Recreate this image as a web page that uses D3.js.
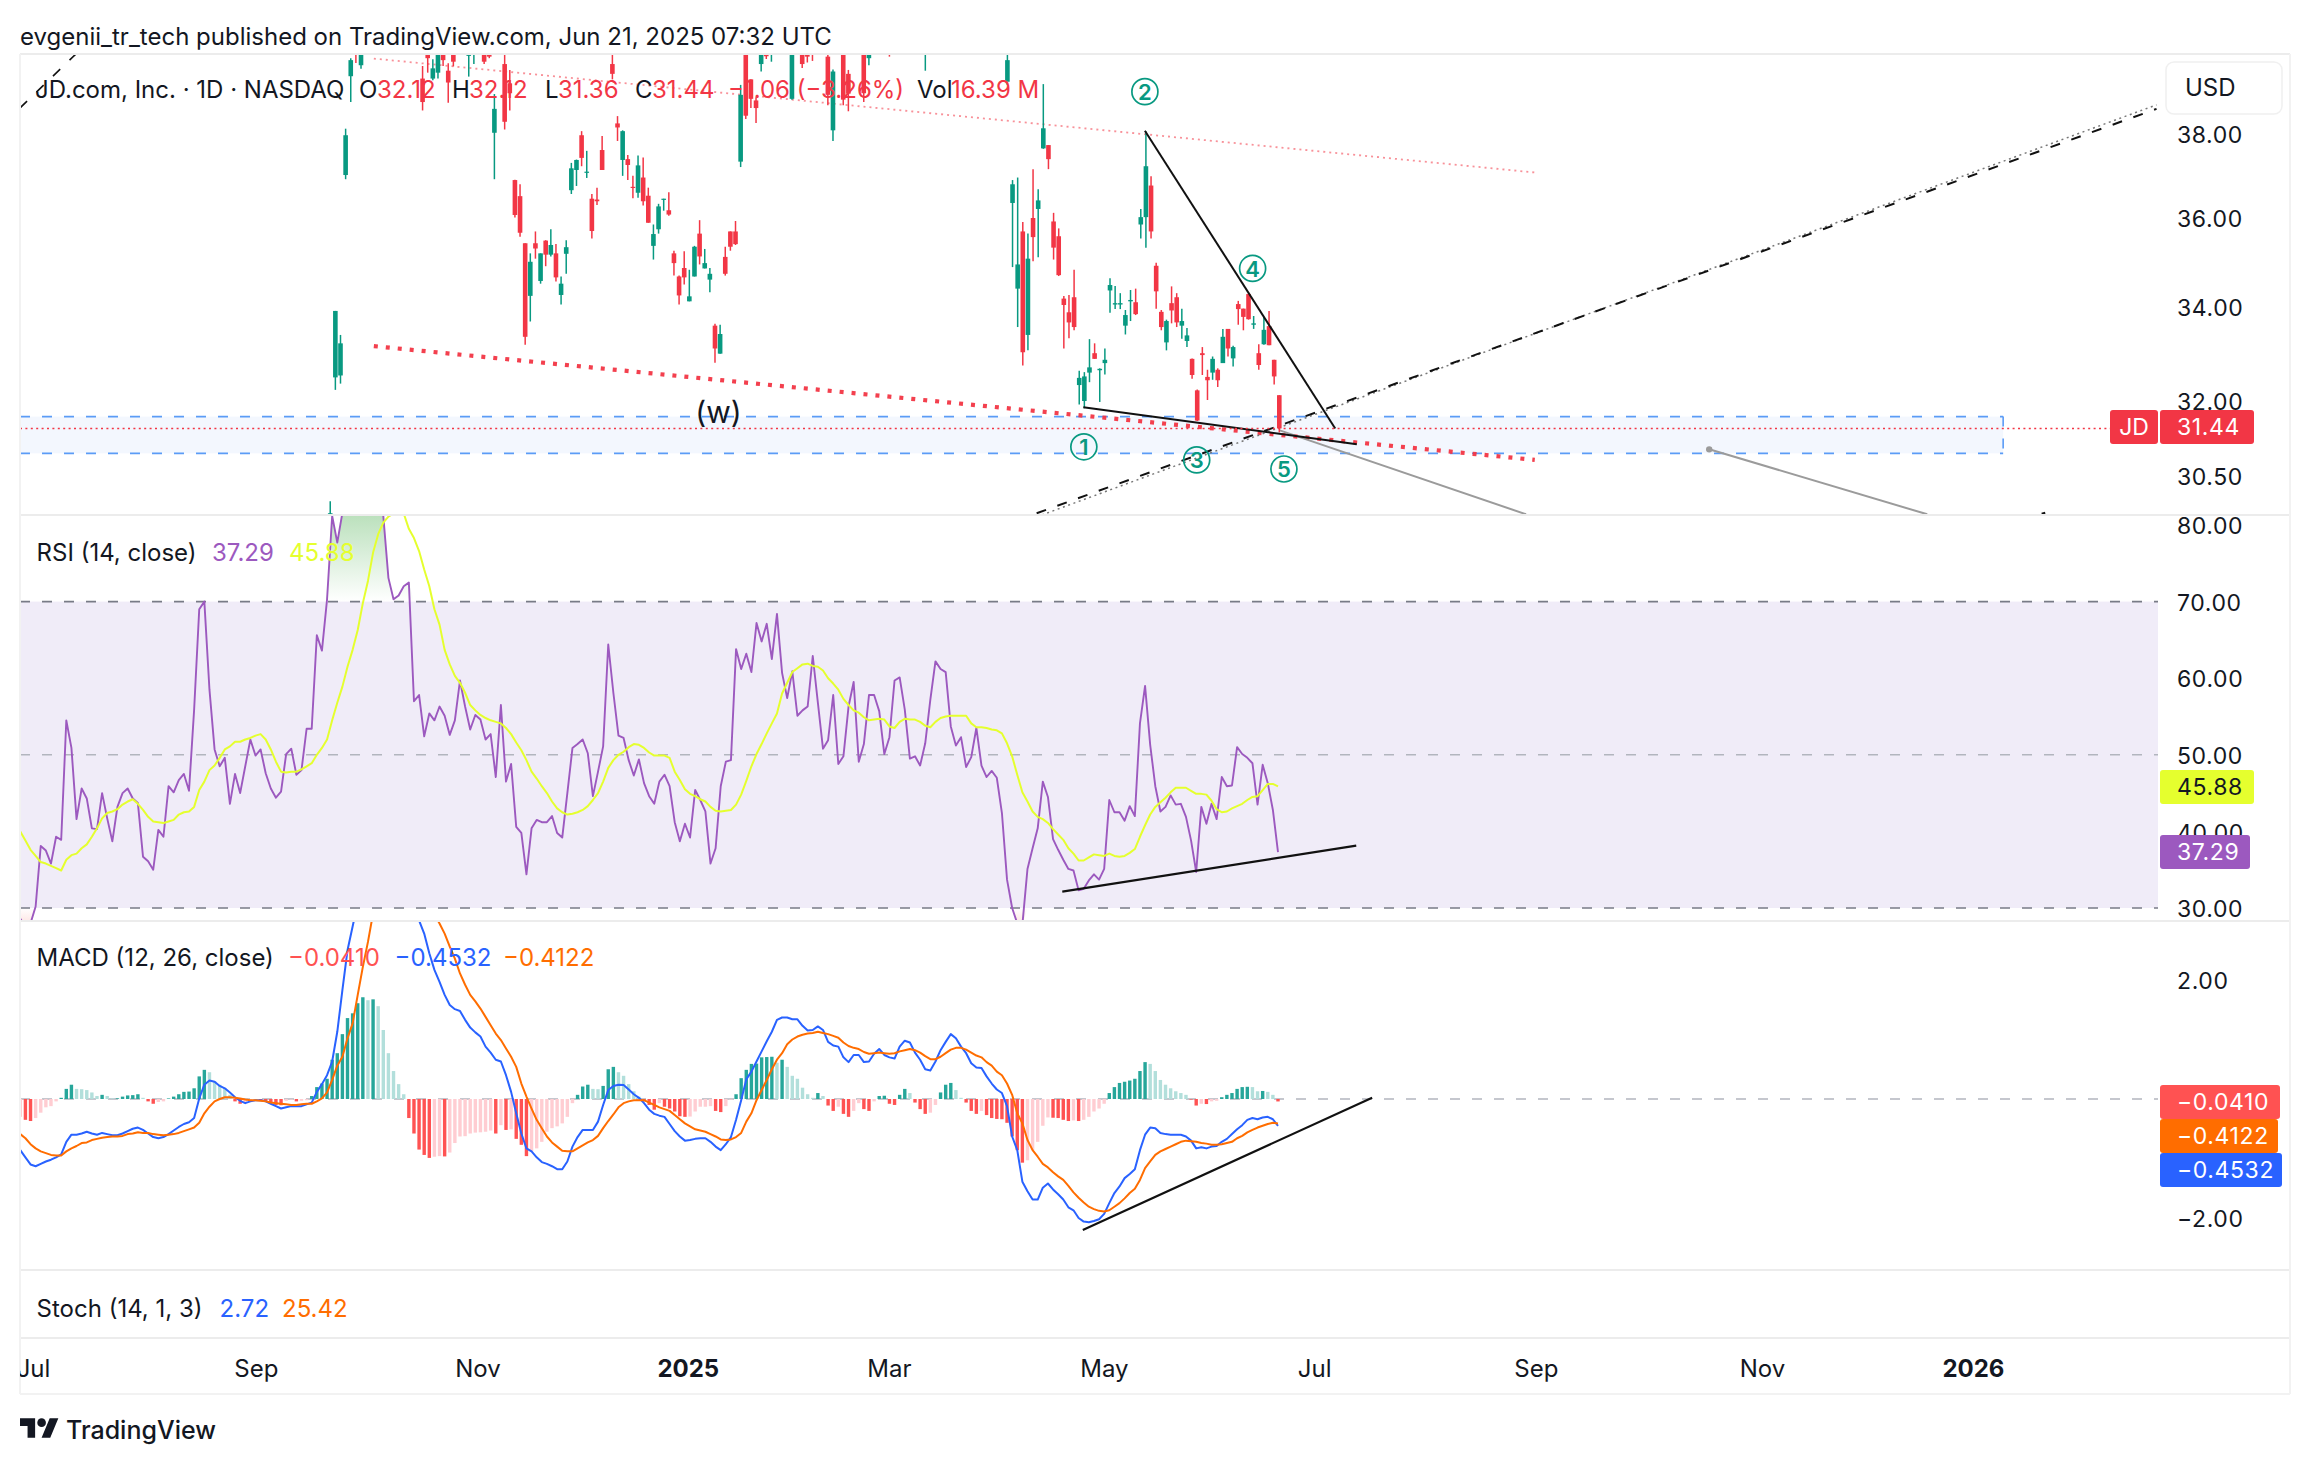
<!DOCTYPE html>
<html>
<head>
<meta charset="utf-8">
<script src="https://cdn.jsdelivr.net/npm/d3@7"></script>
<style>
html,body{margin:0;padding:0;background:#fff;}
svg{display:block;font-family:Inter,"Noto Sans",sans-serif;}
</style>
</head>
<body>
<svg id="chart" width="2310" height="1464"></svg>
<script>
const rsiValues = [
28.6,27.6,28.0,30.2,38.1,37.5,35.8,39.3,38.9,54.5,
50.9,41.6,45.6,44.3,40.4,40.3,45.0,41.7,38.7,43.2,
45.0,45.6,44.3,43.7,36.7,36.1,35.0,40.2,39.3,45.9,
45.1,46.7,47.5,45.3,55.9,69.0,70.0,58.5,50.7,48.5,
49.6,43.6,47.5,45.0,48.5,52.0,49.9,50.7,47.6,45.6,
44.4,45.2,50.1,50.8,47.4,48.0,53.4,53.4,65.6,63.6,
70.3,81.2,77.7,81.6,86,89,90,88,87,85,
84,81.2,73.1,70.3,70.8,72.0,72.5,57.0,57.8,52.4,
55.4,54.5,56.3,55.1,52.6,54.5,59.7,56.3,53.3,55.2,
54.6,52.0,52.7,47.1,56.5,46.5,48.8,40.6,39.8,34.4,
40.4,41.5,41.2,41.2,42.0,39.8,39.2,45.0,50.9,51.4,
52.0,50.2,44.6,47.8,51.1,64.4,58.1,52.5,52.2,49.3,
47.3,49.4,46.3,44.6,43.6,46.5,47.4,45.9,41.2,38.7,
41.0,39.2,45.4,44.1,42.6,35.8,37.8,45.9,49.1,49.3,
63.8,61.2,63.2,60.8,67.2,64.8,67.1,62.5,68.4,60.7,
57.4,60.9,55.1,55.8,56.3,62.9,56.8,50.8,51.9,57.8,
48.8,49.8,56.3,59.5,49.1,51.4,57.8,57.8,55.7,50.1,
52.3,59.7,60.1,55.9,49.5,49.8,48.6,51.5,57.2,62.2,
61.2,60.8,53.7,51.2,52.3,48.4,49.7,53.5,48.6,47.1,
47.9,47.0,42.4,33.7,30.0,28.0,27.8,35.1,37.8,40.4,
46.5,44.5,39.0,37.6,36.3,35.1,34.9,32.3,32.5,33.6,
34.4,33.7,35.1,44.1,42.5,42.5,41.4,43.3,42.0,54.1,
59.0,51.3,45.9,42.6,43.2,44.7,43.5,43.6,41.9,38.8,
34.7,43.2,41.0,43.6,41.6,47.1,45.9,46.0,51.0,50.1,
49.6,48.9,43.5,48.7,46.3,42.8,37.29];

const rsiMaValues = [
40.0,38.8,37.6,36.8,36.0,35.8,35.5,35.2,34.9,36.3,
36.9,37.1,37.8,38.3,39.3,40.4,41.7,42.4,42.6,42.9,
43.5,43.9,44.2,43.6,42.8,41.9,41.3,41.2,41.1,41.3,
41.5,42.2,42.5,42.6,43.2,45.4,46.5,48.0,48.6,49.6,
50.7,51.1,51.7,51.7,52.0,52.2,52.5,52.7,52.0,50.7,
49.1,47.8,47.7,47.8,47.8,48.1,48.5,48.9,50.0,50.9,
52.0,54.5,56.8,58.9,61.5,63.7,66.3,69.8,72.7,76.4,
78.8,80.3,81.1,81.5,81.6,81.5,79.5,78.3,76.6,74.2,
72.0,69.0,67.0,63.7,61.8,60.3,59.4,58.1,56.5,55.8,
55.2,54.8,54.5,54.3,54.1,53.5,52.7,51.6,50.6,49.3,
47.8,46.9,45.9,45.0,43.9,43.0,42.5,42.2,42.3,42.5,
42.8,43.3,44.1,45.0,46.5,48.3,49.3,50.0,50.4,51.0,
51.4,51.3,50.9,50.3,49.9,49.9,49.9,49.6,47.8,46.7,
45.5,44.9,44.6,44.2,43.9,43.2,42.7,42.6,42.7,42.8,
43.5,44.8,46.6,48.5,50.1,51.4,52.8,54.1,55.4,58.0,
59.4,60.8,61.3,61.8,61.9,61.6,61.5,61.0,60.0,59.3,
58.5,57.3,56.5,55.8,55.5,54.9,54.5,54.6,54.7,54.6,
53.7,53.5,54.3,54.7,54.6,54.6,54.3,53.8,53.6,54.3,
54.8,55.0,55.1,55.1,55.1,55.1,54.1,53.6,53.6,53.5,
53.3,53.2,52.8,51.5,49.8,47.4,45.1,43.9,42.6,41.9,
41.6,41.1,40.3,39.6,38.9,37.8,37.1,36.2,36.2,36.6,
37.0,36.9,36.8,37.1,36.8,36.7,36.8,37.2,37.7,39.3,
40.8,42.2,43.2,43.8,44.4,45.1,45.7,45.7,45.7,45.3,
44.9,44.9,44.8,44.0,42.9,42.5,42.6,43.0,43.3,43.6,
44.1,44.5,44.6,45.4,46.2,46.2,45.88];

const macdValues = [
-0.86,-0.98,-1.10,-1.13,-1.09,-1.05,-1.02,-0.98,-0.93,-0.72,
-0.60,-0.60,-0.58,-0.55,-0.58,-0.60,-0.57,-0.59,-0.61,-0.61,
-0.58,-0.54,-0.50,-0.48,-0.52,-0.58,-0.64,-0.66,-0.64,-0.59,
-0.53,-0.47,-0.42,-0.39,-0.32,0.01,0.24,0.31,0.29,0.22,
0.18,0.11,0.03,-0.03,-0.07,-0.04,-0.02,-0.02,-0.04,-0.08,
-0.12,-0.16,-0.14,-0.12,-0.12,-0.12,-0.09,-0.06,0.12,0.25,
0.40,0.63,1.13,1.83,2.50,2.90,3.3,3.6,3.9,4.1,
4.2,4.2,4.1,4.0,3.8,3.6,3.4,3.2,3.0,2.78,
2.45,2.17,1.97,1.75,1.58,1.51,1.48,1.33,1.20,1.12,
1.05,0.88,0.78,0.66,0.63,0.40,0.12,-0.24,-0.58,-0.83,
-0.88,-0.98,-1.06,-1.09,-1.13,-1.18,-1.18,-1.05,-0.80,-0.64,
-0.52,-0.52,-0.52,-0.38,-0.10,0.15,0.22,0.24,0.235,0.16,
0.08,0.02,-0.07,-0.18,-0.25,-0.28,-0.30,-0.42,-0.54,-0.63,
-0.70,-0.69,-0.67,-0.66,-0.66,-0.72,-0.80,-0.86,-0.76,-0.64,
-0.35,-0.02,0.33,0.46,0.63,0.80,0.97,1.13,1.33,1.37,
1.37,1.34,1.34,1.23,1.15,1.16,1.22,1.16,0.96,0.90,
0.88,0.70,0.62,0.74,0.74,0.62,0.63,0.76,0.84,0.74,
0.70,0.68,0.88,0.98,0.95,0.78,0.66,0.50,0.48,0.63,
0.82,0.96,1.09,1.02,0.88,0.77,0.60,0.53,0.52,0.38,
0.26,0.16,0.10,-0.12,-0.63,-0.86,-1.39,-1.55,-1.69,-1.69,
-1.49,-1.42,-1.52,-1.60,-1.69,-1.82,-1.87,-2.00,-2.06,-2.07,
-2.05,-2.02,-1.93,-1.75,-1.58,-1.47,-1.33,-1.26,-1.18,-0.86,
-0.60,-0.48,-0.49,-0.57,-0.59,-0.60,-0.60,-0.60,-0.63,-0.70,
-0.83,-0.81,-0.83,-0.80,-0.79,-0.72,-0.67,-0.59,-0.51,-0.44,
-0.35,-0.32,-0.34,-0.31,-0.30,-0.34,-0.4532];

const signalValues = [
-0.59,-0.66,-0.76,-0.83,-0.88,-0.91,-0.94,-0.95,-0.95,-0.88,
-0.83,-0.79,-0.74,-0.73,-0.69,-0.67,-0.65,-0.64,-0.63,-0.63,
-0.62,-0.59,-0.58,-0.56,-0.57,-0.57,-0.59,-0.60,-0.61,-0.60,
-0.59,-0.57,-0.54,-0.51,-0.48,-0.40,-0.24,-0.13,-0.04,0.00,
0.03,0.03,0.02,0.01,-0.01,-0.02,-0.02,-0.03,-0.04,-0.06,
-0.07,-0.08,-0.09,-0.10,-0.10,-0.09,-0.08,-0.08,-0.04,0.01,
0.11,0.32,0.56,0.71,1.02,1.27,1.75,2.22,2.64,3.12,
3.3,3.45,3.6,3.7,3.75,3.75,3.7,3.6,3.5,3.4,
3.25,3.1,2.95,2.78,2.56,2.36,2.11,1.92,1.75,1.64,
1.52,1.38,1.24,1.10,0.99,0.85,0.71,0.54,0.26,0.04,
-0.16,-0.35,-0.49,-0.63,-0.73,-0.80,-0.87,-0.88,-0.88,-0.83,
-0.78,-0.73,-0.69,-0.62,-0.49,-0.37,-0.26,-0.14,-0.07,-0.04,
-0.02,-0.02,-0.02,-0.06,-0.10,-0.14,-0.17,-0.20,-0.27,-0.34,
-0.41,-0.46,-0.51,-0.53,-0.55,-0.59,-0.63,-0.68,-0.69,-0.68,
-0.64,-0.57,-0.38,-0.24,-0.02,0.15,0.32,0.50,0.66,0.77,
0.92,1.00,1.05,1.08,1.10,1.11,1.13,1.11,1.09,1.06,
1.03,0.95,0.89,0.86,0.84,0.79,0.76,0.77,0.78,0.77,
0.76,0.77,0.80,0.82,0.84,0.82,0.78,0.72,0.67,0.67,
0.71,0.77,0.83,0.86,0.86,0.83,0.78,0.73,0.70,0.62,
0.56,0.46,0.40,0.26,0.07,-0.24,-0.41,-0.69,-0.86,-0.97,
-1.09,-1.15,-1.23,-1.30,-1.36,-1.46,-1.57,-1.66,-1.74,-1.81,
-1.85,-1.88,-1.89,-1.87,-1.81,-1.75,-1.67,-1.58,-1.51,-1.36,
-1.16,-1.05,-0.94,-0.88,-0.84,-0.80,-0.76,-0.72,-0.70,-0.71,
-0.72,-0.74,-0.75,-0.77,-0.77,-0.76,-0.74,-0.72,-0.66,-0.62,
-0.56,-0.52,-0.48,-0.45,-0.42,-0.40,-0.4122];

const histValues = [
-.30,-.35,-.37,-.32,-.23,-.14,-.12,-.04,.02,.17,
.24,.17,.165,.15,.11,.05,.07,.05,.01,.012,
.04,.06,.065,.08,.02,-.04,-.08,-.05,-.04,.01,
.04,.08,.12,.125,.18,.38,.49,.45,.30,.24,
.18,.07,-.04,-.08,-.07,-.02,-.02,-.03,-.04,-.07,
-.10,-.105,-.03,-.01,-.04,-.03,-.02,.05,.20,.26,
.34,.66,.77,1.09,1.36,1.44,1.61,1.71,1.66,1.675,
1.56,1.16,.77,.47,.25,.08,-.32,-.58,-.85,-.94,
-.99,-.97,-.96,-.965,-.90,-.74,-.63,-.625,-.58,-.565,
-.56,-.55,-.53,-.58,-.44,-.52,-.51,-.67,-.77,-.96,
-.88,-.83,-.72,-.55,-.49,-.46,-.41,-.30,-.07,.07,
.21,.24,.17,.165,.22,.50,.54,.45,.39,.25,
.13,.04,-.04,-.10,-.18,-.07,-.13,-.16,-.21,-.29,
-.30,-.295,-.21,-.13,-.13,-.12,-.20,-.22,-.12,-.01,
.08,.35,.49,.59,.595,.70,.705,.71,.61,.66,
.54,.39,.34,.19,.08,.02,.10,.05,-.11,-.20,
-.13,-.25,-.30,-.20,-.07,-.17,-.20,-.04,.05,.055,
-.08,-.10,.07,.17,.10,-.06,-.17,-.25,-.23,-.10,
.11,.24,.27,.15,.02,-.06,-.20,-.25,-.20,-.27,
-.32,-.335,-.34,-.40,-.63,-.86,-1.07,-1.03,-.86,-.72,
-.45,-.31,-.315,-.32,-.35,-.37,-.36,-.37,-.35,-.30,
-.21,-.16,-.08,.10,.20,.27,.29,.31,.34,.47,
.62,.59,.47,.32,.24,.18,.13,.10,.07,-.01,
-.11,-.08,-.085,-.04,-.03,.03,.07,.10,.17,.20,
.205,.20,.13,.135,.12,.07,-.041];

// [bar, open, high, low, close]
const candles = [
[61,29.5,30.0,29.2,29.77],[62,32.49,33.91,32.23,33.91],[63,32.53,33.39,32.36,33.21],[64,37.01,38.13,36.91,37.97],
[65,39.44,39.90,38.79,39.85],[66,40.6,40.9,39.78,40.0],[67,39.72,41,39.63,40.5],
[79,39.38,39.70,38.58,38.79],[80,40.6,41,39.53,39.90],[81,39.38,39.87,39.34,39.64],[82,39.53,40.6,39.38,40.3],
[83,40.4,40.7,39.70,39.85],[84,39.58,39.77,38.77,39.28],[85,40.5,40.8,39.69,39.81],[88,39.96,40.7,39.43,40.4],
[89,40.2,40.9,39.75,40.6],[91,40.5,40.8,39.75,39.81],[92,40.3,40.6,39.90,39.94],[93,38.03,38.99,36.91,38.62],
[95,39.75,40.3,38.11,38.30],[96,39.26,39.6,38.58,39.01],[97,36.89,36.90,36.01,36.07],[98,36.51,36.79,35.57,35.66],
[99,35.42,35.42,33.18,33.35],[100,34.24,35.19,33.68,35.00],[101,35.42,35.69,35.07,35.30],[102,34.57,35.19,34.51,35.19],
[103,35.48,35.49,34.90,35.16],[104,35.16,35.74,35.12,35.38],[105,35.19,35.40,34.56,34.65],[106,34.26,34.67,34.05,34.51],
[107,35.18,35.49,34.73,35.33],[108,36.65,37.30,36.56,37.17],[109,37.13,37.38,36.75,37.37],[110,37.97,38.07,37.22,37.42],
[111,37.07,37.59,36.94,37.09],[112,36.45,36.56,35.53,35.70],[113,36.43,36.71,36.30,36.39],[114,37.61,37.95,37.13,37.13],
[116,39.75,40.3,39.36,39.50],[117,38.26,38.44,37.83,38.16],[118,37.37,38.09,36.99,38.07],[119,37.39,37.49,36.89,37.25],
[120,36.73,36.99,36.46,36.71],[121,36.59,37.48,36.47,37.24],[122,36.95,37.43,36.29,36.39],[123,36.52,36.71,35.89,35.89],
[124,35.36,35.85,35.05,35.63],[125,35.74,36.33,35.64,36.27],[126,36.43,36.45,36.17,36.45],[127,36.18,36.60,36.05,36.08],
[128,35.19,35.25,34.69,34.97],[129,34.67,34.69,34.05,34.25],[130,34.86,35.24,34.49,34.65],[131,34.12,34.82,34.12,34.23],
[132,34.67,35.36,34.67,35.34],[133,35.64,35.95,34.94,35.12],[134,34.85,35.29,34.85,34.97],[135,34.60,34.86,34.32,34.73],
[136,33.59,33.63,32.80,33.10],[137,32.99,33.61,32.99,33.41],[138,35.11,35.34,34.69,34.73],[139,35.69,35.69,35.25,35.34],
[140,35.69,35.93,35.38,35.40],[141,37.33,39.22,37.20,38.97],[142,40.3,40.6,38.37,38.45],[143,39.36,39.36,38.64,38.87],
[144,38.83,38.91,38.27,38.64],[145,39.75,40.7,39.56,40.2],[146,40.4,41,39.88,39.95],[147,40.3,40.9,39.81,40.7],
[151,38.87,40.7,38.85,40.4],[153,40.5,40.9,39.65,39.75],[154,40.4,40.7,39.79,39.94],[155,40.5,40.7,39.83,40.1],
[158,39.94,40.3,38.71,38.97],[159,38.09,39.61,37.83,39.56],[161,40.3,40.6,38.71,38.85],[162,39.5,39.6,38.56,39.0],
[165,40.4,40.7,38.79,39.01],[166,39.90,40.7,39.72,40.4],[170,40.5,40.8,39.94,40.1],[177,40.2,40.9,39.58,40.6],
[193,39.30,40.05,39.22,39.85],[194,36.35,36.89,34.88,36.79],[195,34.40,36.95,33.56,34.94],[196,35.69,35.91,32.74,33.02],
[197,33.39,35.64,33.06,35.07],[198,36.00,37.15,35.01,35.56],[199,36.21,36.67,35.10,36.41],[200,37.65,39.24,37.64,38.14],
[201,37.73,37.73,37.15,37.39],[202,35.92,36.12,35.05,35.32],[203,35.58,35.76,34.68,34.70],[204,34.18,34.24,33.10,34.04],
[205,33.88,34.26,33.32,33.66],[206,34.21,34.82,33.49,33.56],[207,32.33,32.63,31.93,32.48],[208,32.00,32.60,31.85,32.51],
[209,32.59,33.30,32.39,32.70],[210,33.00,33.21,32.88,32.88],[211,32.64,32.68,31.98,32.67],[212,32.79,33.10,32.55,32.86],
[213,34.36,34.63,33.87,34.48],[214,34.05,34.46,33.95,34.08],[215,34.05,34.30,33.95,34.08],[216,33.59,33.93,33.40,33.82],
[217,34.12,34.37,33.69,34.15],[218,34.10,34.40,33.82,33.84],[219,35.85,36.21,35.53,36.02],[220,36.02,38.07,35.32,37.22],
[221,36.76,36.98,35.53,35.69],[222,34.91,34.98,33.96,34.34],[223,33.89,33.93,33.49,33.56],[224,33.23,33.72,33.06,33.69],
[225,34.08,34.45,33.64,33.92],[226,34.21,34.30,33.56,33.66],[227,33.59,33.96,33.31,33.69],[228,33.26,33.54,33.13,33.38],
[229,32.88,32.89,32.46,32.54],[230,32.22,32.24,31.59,31.60],[231,33.00,33.13,32.54,32.96],[232,32.50,32.65,32.02,32.43],
[233,32.59,32.93,32.44,32.88],[234,32.65,32.68,32.29,32.43],[235,32.79,33.52,32.79,33.35],[236,33.52,33.52,32.93,33.10],
[237,32.89,33.16,32.72,33.13],[238,34.06,34.13,33.61,33.95],[239,33.96,33.96,33.49,33.78],[240,34.28,34.30,33.72,33.73],
[241,33.61,33.80,33.52,33.64],[242,33.00,33.19,32.65,32.75],[243,33.19,33.78,33.18,33.50],[244,33.58,33.91,33.17,33.17],
[245,32.86,32.86,32.34,32.51],[246,32.12,32.12,31.36,31.44]];

const priceTicks = [38,36,34,32,30.5];
const rsiTicks = [80,70,60,50,40,30];
const macdTicks = [2,-2];
const timeBars = [3.06,46.5,89.7,130.7,169.9,211.8,252.8,296,340.1,381.2];
const timeLabels = ["Jul","Sep","Nov","2025","Mar","May","Jul","Sep","Nov","2026"];

const lastClose = 31.44;
const rangeZone = {top:31.68, bottom:30.94, endBar:387.1};
// trend drawings as [bar, value] pairs
const thinPinkLine = [[69.5,39.89],[295.8,37.07]];
const thickRedLine = [[69.5,33.15],[295.8,30.81]];
const risingLine = [[198.7,29.77],[417.0,38.62]];
const risingGuide = [[198.7,29.70],[417.0,38.72]];
const cornerLine = [[0.5,38.64],[11.6,40.03]];
const wedgeTop = [[219.8,38.08],[256.9,31.44]];
const wedgeBottom = [[207.8,31.87],[261.1,31.12]];
const grayLineA = [[246.1,31.40],[294.1,29.75]];
const grayLineB = [[329.8,31.02],[372.3,29.75]];
const cornerTick = [[394.6,29.76],[395.3,29.78]];
const rsiTrend = [[203.7,32.13],[261.0,38.14]];
const macdTrend = [[207.7,-2.20],[264.1,0.022]];
const waveDigits = ["1","2","3","4","5"];
const waveBars = [207.9,219.8,229.9,240.8,246.9];
const wavePrices = [31.07,39.05,30.81,34.85,30.63];

const RED="#F23645", TEAL="#089981", PURPLE="#9C59BF", YELLOW="#E5FF2E",
      BLUE="#2962FF", ORANGE="#FF6D00", SOFTRED="#FF5252", TXT="#131722", LINE="#ececec";

const svg = d3.select("#chart");
const L=20, R=2158, OUT=2290, P=[54,515], S=[515,921], M=[921,1270], ST=[1270,1338], T=[1338,1394];

const xC = d3.scaleLinear().domain([0,246]).range([17.3,1279.3]);   // candles, drawings, time axis
const xL = d3.scaleLinear().domain([0,246]).range([20.3,1278]);     // indicator series
const yP = d3.scaleLog().domain([38,32]).range([134,401]);
const yS = d3.scaleLinear().domain([80,30]).range([525,908]);
const yM = d3.scaleLinear().domain([2,-2]).range([980,1218]);

const defs = svg.append("defs");
function clip(id,a){defs.append("clipPath").attr("id",id).append("rect").attr("x",L).attr("y",a[0]).attr("width",R-L).attr("height",a[1]-a[0]);}
clip("cp",P);clip("cs",S);clip("cm",M);
defs.append("clipPath").attr("id","ct").append("rect").attr("x",L).attr("y",T[0]).attr("width",OUT-L).attr("height",T[1]-T[0]);
const gg=defs.append("linearGradient").attr("id","gOver").attr("gradientUnits","userSpaceOnUse").attr("x1",0).attr("x2",0).attr("y1",S[0]).attr("y2",yS(70));
gg.append("stop").attr("offset",0).attr("stop-color","#4CAF50").attr("stop-opacity",0.38);
gg.append("stop").attr("offset",1).attr("stop-color","#4CAF50").attr("stop-opacity",0);
const gr=defs.append("linearGradient").attr("id","gUnder").attr("gradientUnits","userSpaceOnUse").attr("x1",0).attr("x2",0).attr("y1",yS(30)).attr("y2",S[1]);
gr.append("stop").attr("offset",0).attr("stop-color","#F44336").attr("stop-opacity",0);
gr.append("stop").attr("offset",1).attr("stop-color","#F44336").attr("stop-opacity",0.12);

function seg(parent,pts,scaleX,scaleY,color,w,dash,op){
  const l=parent.append("line")
    .attr("x1",scaleX(pts[0][0])).attr("y1",scaleY(pts[0][1]))
    .attr("x2",scaleX(pts[1][0])).attr("y2",scaleY(pts[1][1]))
    .attr("stroke",color).attr("stroke-width",w);
  if(dash) l.attr("stroke-dasharray",dash);
  if(op!=null) l.attr("stroke-opacity",op);
  return l;
}
function txt(x,y,s,color,size,weight,anchor){
  return svg.append("text").attr("x",x).attr("y",y).attr("dy","0.36em").attr("fill",color)
    .attr("font-size",size||24).attr("font-weight",weight||400).attr("text-anchor",anchor||"start").text(s);
}

/* ---------- price pane ---------- */
const gP = svg.append("g").attr("clip-path","url(#cp)");
const zy0=yP(rangeZone.top), zy1=yP(rangeZone.bottom), zx=xC(rangeZone.endBar);
gP.append("rect").attr("x",L).attr("y",zy0).attr("width",zx-L).attr("height",zy1-zy0).attr("fill","#F3F7FE");
[[L,zy0,zx,zy0],[L,zy1,zx,zy1],[zx,zy0,zx,zy1]].forEach(c=>{
  gP.append("line").attr("x1",c[0]).attr("y1",c[1]).attr("x2",c[2]).attr("y2",c[3])
    .attr("stroke","#5B9CF6").attr("stroke-width",1.6).attr("stroke-dasharray","10 12");
});
seg(gP,thinPinkLine,xC,yP,RED,1.8,"2 4",0.55);
seg(gP,thickRedLine,xC,yP,RED,4.2,"4 8",0.95);
seg(gP,cornerLine,xC,yP,"#111",1.6,"10 13");
seg(gP,risingGuide,xC,yP,"#777",1.5,"2 3.6");
seg(gP,risingLine,xC,yP,"#111",2,"10 12");
seg(gP,grayLineA,xC,yP,"#9b9b9b",2);
seg(gP,grayLineB,xC,yP,"#9b9b9b",2);
gP.append("circle").attr("cx",xC(grayLineB[0][0])).attr("cy",yP(grayLineB[0][1])).attr("r",3.2).attr("fill","#9b9b9b");
seg(gP,cornerTick,xC,yP,"#111",2);

const gC = gP.append("g");
gC.selectAll("line.w").data(candles).join("line").attr("class","w")
  .attr("x1",d=>xC(d[0])).attr("x2",d=>xC(d[0])).attr("y1",d=>yP(d[2])).attr("y2",d=>yP(d[3]))
  .attr("stroke",d=>d[4]>=d[1]?TEAL:RED).attr("stroke-width",1.5);
gC.selectAll("rect.b").data(candles).join("rect").attr("class","b")
  .attr("x",d=>xC(d[0])-2.3).attr("width",4.6)
  .attr("y",d=>yP(Math.max(d[1],d[4])))
  .attr("height",d=>Math.max(1.2,Math.abs(yP(d[1])-yP(d[4]))))
  .attr("fill",d=>d[4]>=d[1]?TEAL:RED);

seg(gP,wedgeTop,xC,yP,"#111",2);
seg(gP,wedgeBottom,xC,yP,"#111",2);

svg.append("line").attr("x1",L).attr("x2",2110).attr("y1",yP(lastClose)).attr("y2",yP(lastClose))
  .attr("stroke",RED).attr("stroke-width",1.6).attr("stroke-dasharray","2 3.4");

waveDigits.forEach((d,i)=>{
  const cx=xC(waveBars[i]), cy=yP(wavePrices[i]);
  svg.append("circle").attr("cx",cx).attr("cy",cy).attr("r",13).attr("fill","none").attr("stroke",TEAL).attr("stroke-width",1.7);
  svg.append("text").attr("x",cx).attr("y",cy).attr("dy","0.37em").attr("text-anchor","middle").attr("fill",TEAL)
    .attr("font-size",22).attr("font-weight",600).text(d);
});
svg.append("text").attr("x",xC(136.7)).attr("y",yP(31.76)).attr("dy","0.34em").attr("text-anchor","middle")
  .attr("fill",TXT).attr("font-size",30).text("(w)");

/* ---------- RSI pane ---------- */
const gS = svg.append("g").attr("clip-path","url(#cs)");
gS.append("rect").attr("x",L).attr("y",yS(70)).attr("width",R-L).attr("height",yS(30)-yS(70)).attr("fill","#F0ECF8");
const idx = rsiValues.map((v,i)=>i);
gS.append("path").datum(idx).attr("fill","url(#gOver)")
  .attr("d",d3.area().x(i=>xL(i)).y0(yS(70)).y1(i=>yS(Math.max(rsiValues[i],70))));
gS.append("path").datum(idx).attr("fill","url(#gUnder)")
  .attr("d",d3.area().x(i=>xL(i)).y0(yS(30)).y1(i=>yS(Math.min(rsiValues[i],30))));
[[70,"#787B86"],[50,"#B2B5BE"],[30,"#787B86"]].forEach(b=>{
  gS.append("line").attr("x1",L).attr("x2",R).attr("y1",yS(b[0])).attr("y2",yS(b[0]))
    .attr("stroke",b[1]).attr("stroke-width",1.6).attr("stroke-dasharray","10 12");
});
gS.append("path").datum(rsiValues).attr("fill","none").attr("stroke",PURPLE).attr("stroke-width",1.9).attr("stroke-linejoin","round")
  .attr("d",d3.line().x((d,i)=>xL(i)).y(d=>yS(d)));
gS.append("path").datum(rsiMaValues).attr("fill","none").attr("stroke",YELLOW).attr("stroke-width",2).attr("stroke-linejoin","round")
  .attr("d",d3.line().x((d,i)=>xL(i)).y(d=>yS(d)));
seg(gS,rsiTrend,xC,yS,"#111",2.2);

/* ---------- MACD pane ---------- */
const gM = svg.append("g").attr("clip-path","url(#cm)");
gM.append("line").attr("x1",L).attr("x2",R).attr("y1",yM(0)).attr("y2",yM(0))
  .attr("stroke","#B2B5BE").attr("stroke-width",1.6).attr("stroke-dasharray","10 12");
function histColor(d,i){
  const p=i>0?histValues[i-1]:d;
  if(d>=0) return d>=p?"#26A69A":"#B2DFDB";
  return d<p?"#FF5252":"#FFCDD2";
}
gM.selectAll("rect.h").data(histValues).join("rect").attr("class","h")
  .attr("x",(d,i)=>xL(i)-1.7).attr("width",3.4)
  .attr("y",d=>d>=0?yM(d):yM(0)).attr("height",d=>Math.abs(yM(d)-yM(0)))
  .attr("fill",histColor);
gM.append("path").datum(macdValues).attr("fill","none").attr("stroke",BLUE).attr("stroke-width",2).attr("stroke-linejoin","round")
  .attr("d",d3.line().x((d,i)=>xL(i)).y(d=>yM(d)));
gM.append("path").datum(signalValues).attr("fill","none").attr("stroke",ORANGE).attr("stroke-width",2).attr("stroke-linejoin","round")
  .attr("d",d3.line().x((d,i)=>xL(i)).y(d=>yM(d)));
seg(gM,macdTrend,xC,yM,"#111",2.2);

/* ---------- frame ---------- */
[P[0],P[1],S[1],M[1],ST[1]].forEach(y=>{
  svg.append("line").attr("x1",L).attr("x2",OUT).attr("y1",y).attr("y2",y).attr("stroke",LINE).attr("stroke-width",2);
});
svg.append("line").attr("x1",L).attr("x2",OUT).attr("y1",T[1]).attr("y2",T[1]).attr("stroke","#f2f2f2").attr("stroke-width",2);
[L,OUT].forEach(x=>svg.append("line").attr("x1",x).attr("x2",x).attr("y1",P[0]).attr("y2",T[1]).attr("stroke","#f2f2f2").attr("stroke-width",2));

/* ---------- axes ---------- */
function styleAxis(g){
  g.select(".domain").remove();
  g.selectAll("line").remove();
  g.selectAll("text").attr("fill",TXT).attr("font-size",23).attr("font-family","Inter,'Noto Sans',sans-serif").attr("letter-spacing","0.6").attr("dy","0.38em");
}
svg.append("g").attr("transform","translate(2177,0)")
  .call(d3.axisRight(yP).tickValues(priceTicks).tickFormat(d3.format(".2f")).tickSize(0).tickPadding(0)).call(styleAxis);
svg.append("g").attr("transform","translate(2177,0)")
  .call(d3.axisRight(yS).tickValues(rsiTicks).tickFormat(d3.format(".2f")).tickSize(0).tickPadding(0)).call(styleAxis);
svg.append("g").attr("transform","translate(2177,0)")
  .call(d3.axisRight(yM).tickValues(macdTicks).tickFormat(d3.format(".2f")).tickSize(0).tickPadding(0)).call(styleAxis);
const gT = svg.append("g").attr("clip-path","url(#ct)").append("g").attr("transform","translate(0,1358)")
  .call(d3.axisBottom(xC).tickValues(timeBars).tickFormat((d,i)=>timeLabels[i]).tickSize(0).tickPadding(0)).call(styleAxis);
gT.selectAll("text").attr("letter-spacing","0").attr("font-size",24).attr("dy","0.36em").attr("y",10)
  .attr("font-weight",(d,i)=>/^20/.test(timeLabels[i])?700:400);

/* ---------- axis badges ---------- */
function badge(x0,x1,y0,y1,color){
  svg.append("rect").attr("x",x0).attr("y",y0).attr("width",x1-x0).attr("height",y1-y0).attr("rx",3).attr("fill",color);
}
svg.append("rect").attr("x",2166).attr("y",62).attr("width",116).attr("height",52).attr("rx",8)
  .attr("fill","#fff").attr("stroke","#f0f0f0").attr("stroke-width",1.5);
txt(2185,87,"USD",TXT,24,400);
badge(2110,2158,410,444,RED); badge(2160,2254,410,444,RED);
txt(2134,427,"JD","#fff",23,400,"middle");
txt(2177,427,d3.format(".2f")(lastClose),"#fff",23).attr("letter-spacing","0.6");
badge(2160,2254,770,804,YELLOW); txt(2177,787,"45.88",TXT,23).attr("letter-spacing","0.6");
badge(2160,2250,835,869,PURPLE); txt(2177,852,"37.29","#fff",23).attr("letter-spacing","0.6");
badge(2160,2280,1085,1119,SOFTRED); txt(2177,1102,"\u22120.0410","#fff",23).attr("letter-spacing","0.6");
badge(2160,2278,1119,1153,ORANGE); txt(2177,1136,"\u22120.4122","#fff",23).attr("letter-spacing","0.6");
badge(2160,2282,1153,1187,BLUE); txt(2177,1170,"\u22120.4532","#fff",23).attr("letter-spacing","0.6");

/* ---------- legends ---------- */
txt(20,36,"evgenii_tr_tech published on TradingView.com, Jun 21, 2025 07:32 UTC",TXT,24);
const ly=89;
txt(35,ly,"JD.com, Inc. \u00B7 1D \u00B7 NASDAQ",TXT,24);
[["O",359,TXT],["32.12",377,RED],["H",452,TXT],["32.12",469,RED],["L",545,TXT],["31.36",558,RED],
 ["C",635,TXT],["31.44",652,RED],["\u22121.06 (\u22123.26%)",728,RED],["Vol",917,TXT],["16.39 M",951,RED]]
 .forEach(t=>txt(t[1],ly,t[0],t[2],24));
txt(36.6,552,"RSI (14, close)",TXT,24);
txt(212,552,"37.29",PURPLE,24);
txt(289,552,"45.88",YELLOW,24);
txt(36.6,957,"MACD (12, 26, close)",TXT,24);
txt(288,957,"\u22120.0410",SOFTRED,24);
txt(394.6,957,"\u22120.4532",BLUE,24);
txt(503,957,"\u22120.4122",ORANGE,24);
txt(36.6,1308,"Stoch (14, 1, 3)",TXT,24);
txt(219.6,1308,"2.72",BLUE,24);
txt(282,1308,"25.42",ORANGE,24);

/* ---------- footer ---------- */
const logo = svg.append("g").attr("transform","translate(20,1414) scale(1.08)").attr("fill",TXT);
logo.append("path").attr("d","M14 22H7V11H0V4h14v18zM28 22h-8l7.5-18h8L28 22z");
logo.append("circle").attr("cx",20).attr("cy",8).attr("r",4);
txt(66,1430,"TradingView",TXT,25,500);
</script>
</body>
</html>
